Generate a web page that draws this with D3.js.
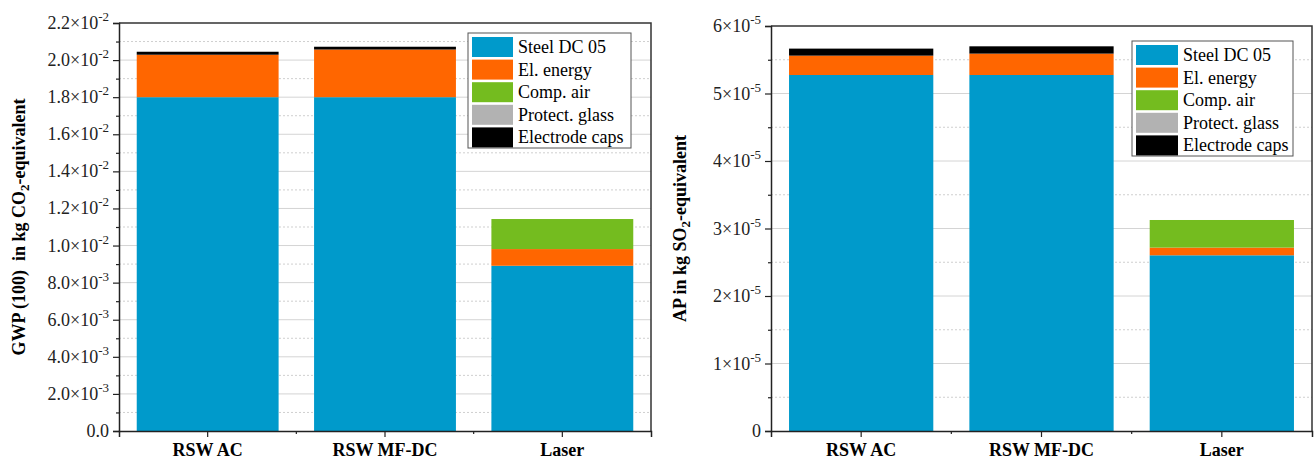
<!DOCTYPE html>
<html>
<head>
<meta charset="utf-8">
<script src="https://cdn.jsdelivr.net/npm/d3@7"></script>
<style>
  body { margin: 0; background: #fff; }
  svg text { font-family: "Times New Roman", "Liberation Serif", "DejaVu Serif", serif; white-space: pre; }
</style>
</head>
<body>
<script>
// categories and stack series
const categories = ["RSW AC", "RSW MF-DC", "Laser"];
const seriesNames = ["Steel DC 05", "El. energy", "Comp. air", "Protect. glass", "Electrode caps"];
const seriesColors = ["#009ACB", "#FF6600", "#74BC1F", "#B2B2B2", "#000000"];

// GWP values (kg CO2-eq), per category, order of seriesNames
const gwpSteel = [0.0180, 0.0180, 0.00891];
const gwpEnergy = [0.00229, 0.00257, 0.00090];
const gwpAir = [0, 0, 0.00162];
const gwpGlass = [0, 0, 0];
const gwpCaps = [0.00016, 0.00015, 0];

// AP values (kg SO2-eq)
const apSteel = [5.274e-5, 5.274e-5, 2.603e-5];
const apEnergy = [0.287e-5, 0.317e-5, 0.114e-5];
const apAir = [0, 0, 0.409e-5];
const apGlass = [0, 0, 0];
const apCaps = [0.104e-5, 0.108e-5, 0];

const gwpTicks = [0, 0.002, 0.004, 0.006, 0.008, 0.010, 0.012, 0.014, 0.016, 0.018, 0.020, 0.022];
const gwpLabels = ["0.0", "2.0×10|-3", "4.0×10|-3", "6.0×10|-3", "8.0×10|-3", "1.0×10|-2",
  "1.2×10|-2", "1.4×10|-2", "1.6×10|-2", "1.8×10|-2", "2.0×10|-2", "2.2×10|-2"];
const apTicks = [0, 1e-5, 2e-5, 3e-5, 4e-5, 5e-5, 6e-5];
const apLabels = ["0", "1×10|-5", "2×10|-5", "3×10|-5", "4×10|-5", "5×10|-5", "6×10|-5"];

const W = 1314, H = 459;
const FONT = "'Times New Roman', 'Liberation Serif', 'DejaVu Serif', serif";
const svg = d3.select("body").append("svg").attr("width", W).attr("height", H)
  .attr("font-family", FONT);

function drawPanel(opt) {
  const {left, right, top, bottom, max, ticks, labels, minorStep, series, title, titleX, legend} = opt;

  const x = d3.scaleBand().domain(categories).range([left, right]).paddingInner(0.2).paddingOuter(0.1);
  const y = d3.scaleLinear().domain([0, max]).range([bottom, top]);
  const g = svg.append("g");

  // grid lines
  const minors = d3.range(minorStep, max, minorStep * 2);
  g.selectAll(".gmin").data(minors).enter().append("line")
    .attr("x1", left).attr("x2", right)
    .attr("y1", d => y(d)).attr("y2", d => y(d))
    .attr("stroke", "#cfcfcf").attr("stroke-width", 1).attr("stroke-dasharray", "2,2");
  g.selectAll(".gmaj").data(ticks.slice(1, -1)).enter().append("line")
    .attr("x1", left).attr("x2", right)
    .attr("y1", d => y(d)).attr("y2", d => y(d))
    .attr("stroke", "#d4d4d4").attr("stroke-width", 1);

  // stacked bars
  const rows = categories.map((c, i) => {
    const r = {cat: c};
    seriesNames.forEach((s, j) => r[s] = series[j][i]);
    return r;
  });
  const stacked = d3.stack().keys(seriesNames)(rows);
  stacked.forEach((layer, j) => {
    g.selectAll(null).data(layer.filter(d => d[1] - d[0] > 0)).enter().append("rect")
      .attr("x", d => x(d.data.cat))
      .attr("width", x.bandwidth())
      .attr("y", d => y(d[1]))
      .attr("height", d => y(d[0]) - y(d[1]))
      .attr("fill", seriesColors[j]);
  });

  // frame top/right
  g.append("path")
    .attr("d", `M${left},${top}H${right}V${bottom}`)
    .attr("fill", "none").attr("stroke", "#333").attr("stroke-width", 1.5);

  // y axis
  const yAxis = g.append("g").attr("transform", `translate(${left},0)`)
    .call(d3.axisLeft(y).tickValues(ticks).tickSize(6).tickFormat(""));
  yAxis.select(".domain").attr("stroke", "#222").attr("stroke-width", 1.5);
  yAxis.selectAll(".tick line").attr("stroke", "#222").attr("stroke-width", 1.2);
  g.append("g").attr("transform", `translate(${left},0)`)
    .call(d3.axisLeft(y).tickValues(minors).tickSize(3).tickFormat(""))
    .call(a => a.select(".domain").remove())
    .selectAll(".tick line").attr("stroke", "#222").attr("stroke-width", 1.2);

  const lab = g.selectAll(".ylab").data(ticks).enter().append("text")
    .attr("x", left - 10).attr("y", (d) => y(d) + 6)
    .attr("text-anchor", "end").attr("font-size", 18).attr("fill", "#222");
  lab.each(function(d, i) {
    const parts = labels[i].split("|");
    const t = d3.select(this);
    t.append("tspan").text(parts[0]);
    if (parts[1]) t.append("tspan").attr("dy", -8).attr("font-size", 13).text(parts[1]);
  });

  // x axis
  const xAxis = g.append("g").attr("transform", `translate(0,${bottom})`)
    .call(d3.axisBottom(x).tickSize(6).tickFormat(""));
  xAxis.select(".domain").attr("stroke", "#222").attr("stroke-width", 1.5);
  xAxis.selectAll(".tick line").attr("stroke", "#222").attr("stroke-width", 1.2);
  const step = x.step();
  g.selectAll(".xminor").data([1, 2]).enter().append("line")
    .attr("x1", d => left + d * step).attr("x2", d => left + d * step)
    .attr("y1", bottom).attr("y2", bottom + 3)
    .attr("stroke", "#222").attr("stroke-width", 1.2);
  g.selectAll(".xlab").data(categories).enter().append("text")
    .attr("x", d => x(d) + x.bandwidth() / 2).attr("y", bottom + 25)
    .attr("text-anchor", "middle").attr("font-size", 18).attr("font-weight", "bold")
    .text(d => d);

  // y title
  const tt = g.append("text")
    .attr("transform", `translate(${titleX},${(top + bottom) / 2}) rotate(-90)`)
    .attr("text-anchor", "middle").attr("font-size", 18).attr("font-weight", "bold");
  tt.append("tspan").text(title[0]);
  tt.append("tspan").attr("dy", 4).attr("font-size", 13).text("2");
  tt.append("tspan").attr("dy", -4).text(title[1]);

  // legend
  const lg = g.append("g");
  lg.append("rect").attr("x", legend.x).attr("y", legend.y)
    .attr("width", legend.w).attr("height", 115)
    .attr("fill", "#fff").attr("stroke", "#555").attr("stroke-width", 1);
  seriesNames.forEach((s, j) => {
    lg.append("rect").attr("x", legend.x + 4).attr("y", legend.y + 4 + j * 22.6)
      .attr("width", legend.sw).attr("height", 20).attr("fill", seriesColors[j]);
    lg.append("text").attr("x", legend.x + legend.sw + 9).attr("y", legend.y + 20 + j * 22.6)
      .attr("font-size", 18).text(s);
  });
}

drawPanel({
  left: 119, right: 651, top: 23, bottom: 431,
  max: 0.022, ticks: gwpTicks, labels: gwpLabels, minorStep: 0.001,
  series: [gwpSteel, gwpEnergy, gwpAir, gwpGlass, gwpCaps],
  title: ["GWP (100)  in kg CO", "-equivalent"], titleX: 25,
  legend: {x: 468, y: 33, w: 163, sw: 41}
});

drawPanel({
  left: 771, right: 1312, top: 26, bottom: 431,
  max: 6e-5, ticks: apTicks, labels: apLabels, minorStep: 0.5e-5,
  series: [apSteel, apEnergy, apAir, apGlass, apCaps],
  title: ["AP in kg SO", "-equivalent"], titleX: 686,
  legend: {x: 1132, y: 41, w: 161, sw: 42}
});
</script>
</body>
</html>
